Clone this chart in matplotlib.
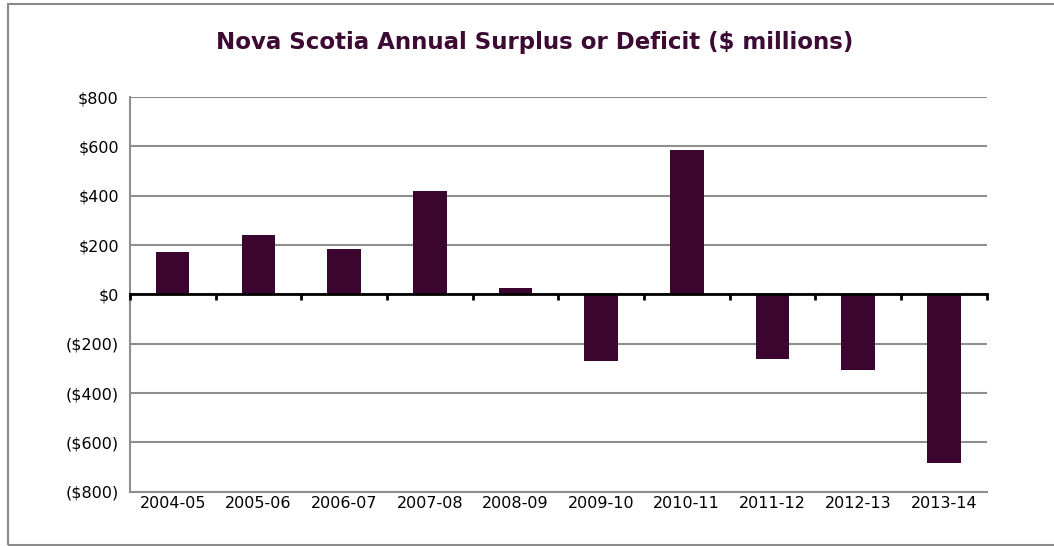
import matplotlib
matplotlib.use("Agg")
import matplotlib.pyplot as plt
from matplotlib.patches import Rectangle
from matplotlib.ticker import FuncFormatter
import numpy as np

years = ["2004-05", "2005-06", "2006-07", "2007-08", "2008-09",
         "2009-10", "2010-11", "2011-12", "2012-13", "2013-14"]
balance = [170, 239, 182, 419, 24, -271, 586, -262, -307, -684]

y_ticks = [-800, -600, -400, -200, 0, 200, 400, 600, 800]

bar_color = "#3b0530"
grid_color = "#8e8e8e"

plt.rcParams["font.family"] = ["DejaVu Sans"]

fig = plt.figure(figsize=(10.54, 5.46), dpi=100)
ax = fig.add_axes([0.1233, 0.0994, 0.8128, 0.7229])

x = np.arange(len(years))
ax.bar(x, balance, width=0.39, color=bar_color, zorder=3)

ax.set_xlim(-0.5, len(years) - 0.5)
ax.set_ylim(-800, 800)
ax.set_yticks(y_ticks)
ax.yaxis.set_major_formatter(FuncFormatter(
    lambda v, p: "$%d" % v if v >= 0 else "($%d)" % -v))
ax.tick_params(axis="y", length=0, pad=8, labelsize=11.5)

ax.set_xticks(x)
ax.set_xticklabels(years)
ax.tick_params(axis="x", length=0, pad=3, labelsize=11.5)

ax.grid(axis="y", color=grid_color, linewidth=1.5, zorder=0)
for side in ["top", "right"]:
    ax.spines[side].set_visible(False)
ax.spines["left"].set_color(grid_color)
ax.spines["left"].set_linewidth(1.5)
ax.spines["bottom"].set_color(grid_color)
ax.spines["bottom"].set_linewidth(1.5)

# zero line with category divider ticks hanging below it
zero = ax.secondary_xaxis(0.5)
zero.set_xticks(np.arange(len(years) + 1) - 0.5)
zero.set_xticklabels([])
zero.tick_params(axis="x", direction="in", length=4, width=2, color="black")
for side in ["top", "bottom"]:
    zero.spines[side].set_color("black")
    zero.spines[side].set_linewidth(2)
zero.set_zorder(4)

fig.text(0.5076, 0.923, "Nova Scotia Annual Surplus or Deficit ($ millions)",
         ha="center", va="center", fontsize=16.5, fontweight="bold", color="#3d0a33")

fig.patches.append(Rectangle((0.0076, 0.0018), 1.2, 0.9909, transform=fig.transFigure,
                             fill=False, edgecolor="#8a8a8a", linewidth=1.5))

fig.savefig("out.png", dpi=100)
